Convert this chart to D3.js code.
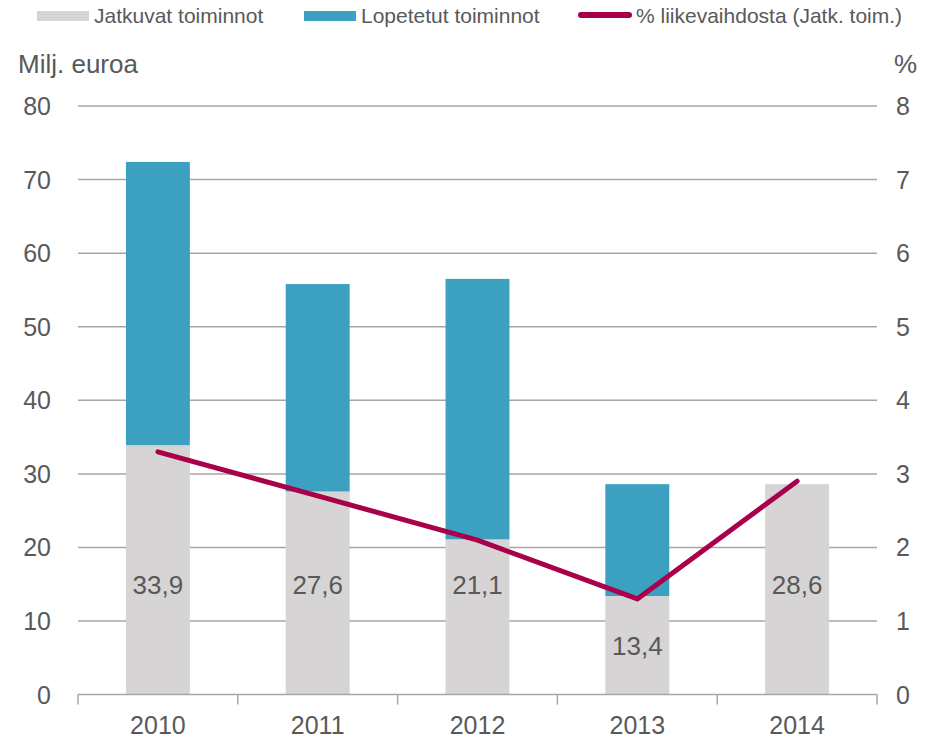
<!DOCTYPE html>
<html>
<head>
<meta charset="utf-8">
<script src="https://cdn.jsdelivr.net/npm/d3@7"></script>
<style>
  body { margin: 0; background: #fff; }
  text { font-family: "Liberation Sans", Arial, sans-serif; fill: #595959; }
</style>
</head>
<body>
<div id="chart"></div>
<script>
// data
const years = ["2010", "2011", "2012", "2013", "2014"];
const continuing = [33.9, 27.6, 21.1, 13.4, 28.6];
const discontinued = [38.5, 28.2, 35.4, 15.2, 0];
const pctOfSales = [3.3, 2.7, 2.1, 1.3, 2.9];
const leftTicks = [0, 10, 20, 30, 40, 50, 60, 70, 80];
const rightTicks = [0, 1, 2, 3, 4, 5, 6, 7, 8];

const width = 935;
const height = 739;
const margin = { top: 106, bottom: 44, left: 78, right: 58 };

const grey = "#d6d4d5";
const blue = "#3ca0c0";
const red = "#a8004a";
const gridCol = "#a6a6a6";

const svg = d3.select("#chart").append("svg")
    .attr("width", width).attr("height", height);

const x = d3.scaleBand().domain(years)
    .range([margin.left, width - margin.right]).paddingInner(0).paddingOuter(0);
const yL = d3.scaleLinear().domain([0, 80]).range([height - margin.bottom - 0.4, margin.top]);
const yR = d3.scaleLinear().domain([0, 8]).range(yL.range());

// gridlines
svg.append("g").selectAll("line")
    .data(leftTicks.filter(d => d > 0))
    .enter().append("line")
    .attr("x1", margin.left).attr("x2", width - margin.right)
    .attr("y1", d => yL(d)).attr("y2", d => yL(d))
    .attr("stroke", gridCol).attr("stroke-width", 1.5);

// bars
const barW = x.bandwidth() * 0.4;
const rows = years.map((yr, i) => ({ yr, c: continuing[i], d: discontinued[i] }));

svg.append("g").selectAll("rect")
    .data(rows).enter().append("rect")
    .attr("x", d => x(d.yr) + (x.bandwidth() - barW) / 2)
    .attr("width", barW)
    .attr("y", d => yL(d.c))
    .attr("height", d => yL(0) - yL(d.c))
    .attr("fill", grey);

svg.append("g").selectAll("rect")
    .data(rows.filter(d => d.d > 0)).enter().append("rect")
    .attr("x", d => x(d.yr) + (x.bandwidth() - barW) / 2)
    .attr("width", barW)
    .attr("y", d => yL(d.c + d.d))
    .attr("height", d => yL(d.c) - yL(d.c + d.d))
    .attr("fill", blue);

// x axis line + ticks
const xAxis = svg.append("g").attr("transform", `translate(0,${yL(0)})`)
    .call(d3.axisBottom(x).tickSize(0).tickFormat(""));
xAxis.select(".domain").attr("stroke", gridCol).attr("stroke-width", 1.5)
    .attr("d", `M${margin.left},0H${width - margin.right}`);
const bounds = years.map(y => x(y)).concat([width - margin.right]);
xAxis.selectAll(".bt").data(bounds).enter().append("line")
    .attr("x1", d => d).attr("x2", d => d)
    .attr("y1", 0).attr("y2", 10)
    .attr("stroke", gridCol).attr("stroke-width", 1.5);

svg.append("g").selectAll("text")
    .data(years).enter().append("text")
    .attr("x", d => x(d) + x.bandwidth() / 2)
    .attr("y", 734)
    .attr("text-anchor", "middle")
    .style("font-size", "25px")
    .text(d => d);

// left axis labels
svg.append("g").selectAll("text")
    .data(leftTicks).enter().append("text")
    .attr("x", 51).attr("y", d => yL(d))
    .attr("dy", "0.36em")
    .attr("text-anchor", "end")
    .style("font-size", "25px")
    .text(d => d);

// right axis labels
svg.append("g").selectAll("text")
    .data(rightTicks).enter().append("text")
    .attr("x", 896).attr("y", d => yR(d))
    .attr("dy", "0.36em")
    .attr("text-anchor", "start")
    .style("font-size", "25px")
    .text(d => d);

svg.append("text").attr("x", 18).attr("y", 73)
    .style("font-size", "26px").text("Milj. euroa");
svg.append("text").attr("x", 917).attr("y", 73)
    .attr("text-anchor", "end")
    .style("font-size", "26px").text("%");

// line
const line = d3.line()
    .x((d, i) => x(years[i]) + x.bandwidth() / 2)
    .y(d => yR(d));
svg.append("path").datum(pctOfSales)
    .attr("d", line)
    .attr("fill", "none")
    .attr("stroke", red)
    .attr("stroke-width", 5)
    .attr("stroke-linejoin", "round")
    .attr("stroke-linecap", "round");

// value labels on grey bars (lower part of tall bars, centre of short ones)
const fmt = d3.format(".1f");
svg.append("g").selectAll("text")
    .data(rows).enter().append("text")
    .attr("x", d => x(d.yr) + x.bandwidth() / 2)
    .attr("y", d => yL(d.c > 20 ? 15 : d.c / 2))
    .attr("dy", "0.36em")
    .attr("text-anchor", "middle")
    .style("font-size", "26px")
    .text(d => fmt(d.c).replace(".", ","));

// legend
const legend = svg.append("g");
legend.append("rect").attr("x", 37).attr("y", 11).attr("width", 52).attr("height", 10).attr("fill", grey);
legend.append("text").attr("x", 94).attr("y", 23).style("font-size", "21px").text("Jatkuvat toiminnot");
legend.append("rect").attr("x", 304).attr("y", 11).attr("width", 52).attr("height", 10).attr("fill", blue);
legend.append("text").attr("x", 361).attr("y", 23).style("font-size", "21px").text("Lopetetut toiminnot");
legend.append("line").attr("x1", 581).attr("x2", 629).attr("y1", 15).attr("y2", 15)
    .attr("stroke", red).attr("stroke-width", 6).attr("stroke-linecap", "round");
legend.append("text").attr("x", 636).attr("y", 23).style("font-size", "21px").text("% liikevaihdosta (Jatk. toim.)");
</script>
</body>
</html>
